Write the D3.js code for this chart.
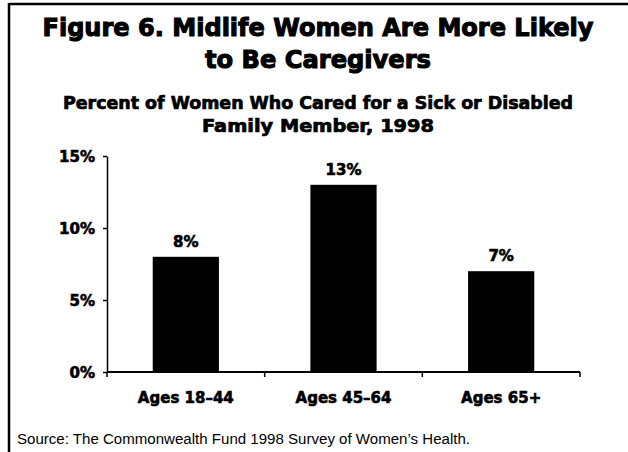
<!DOCTYPE html>
<html>
<head>
<meta charset="utf-8">
<script src="https://cdn.jsdelivr.net/npm/d3@7"></script>
<style>
  html, body { margin: 0; padding: 0; background: #fff; }
  svg { display: block; }
  .bold { font-family: "DejaVu Sans", "Liberation Sans", sans-serif; font-weight: bold; fill: #000; }
</style>
</head>
<body>
<script>
// Chart data
const categories = ["Ages 18\u201344", "Ages 45\u201364", "Ages 65+"];
const values = [8, 13, 7];
const yTicks = [0, 5, 10, 15];

const titleLines = ["Figure 6. Midlife Women Are More Likely", "to Be Caregivers"];
const subtitleLines = ["Percent of Women Who Cared for a Sick or Disabled", "Family Member, 1998"];
const sourceText = "Source: The Commonwealth Fund 1998 Survey of Women\u2019s Health.";

const W = 628, H = 452;
const svg = d3.select("body").append("svg").attr("width", W).attr("height", H);

// Frame: top and left rules
svg.append("line").attr("x1", 9).attr("x2", W).attr("y1", 4).attr("y2", 4)
  .attr("stroke", "#000").attr("stroke-width", 2.5);
svg.append("line").attr("x1", 9).attr("x2", 9).attr("y1", 3).attr("y2", H)
  .attr("stroke", "#000").attr("stroke-width", 2.5);

// Titles
const titleSpec = [
  { text: titleLines[0], y: 36, size: 25, len: 551, sw: 1.1 },
  { text: titleLines[1], y: 68, size: 25, len: 226, sw: 1.1 },
  { text: subtitleLines[0], y: 109, size: 17, len: 510, sw: 0.7 },
  { text: subtitleLines[1], y: 132, size: 17, len: 232, sw: 0.7 }
];
titleSpec.forEach(t => {
  svg.append("text").attr("class", "bold")
    .attr("x", 318).attr("y", t.y).attr("text-anchor", "middle")
    .attr("font-size", t.size)
    .attr("stroke", "#000").attr("stroke-width", t.sw)
    .attr("textLength", t.len).attr("lengthAdjust", "spacingAndGlyphs")
    .text(t.text);
});

// Plot area
const x0 = 107, x1 = 580, yTop = 156, yBot = 372;
const x = d3.scaleBand().domain(categories).range([x0, x1]).paddingInner(0.58).paddingOuter(0.29);
const y = d3.scaleLinear().domain([0, 15]).range([yBot, yTop]);

// Bars
svg.append("g").selectAll("rect").data(values).join("rect")
  .attr("x", (d, i) => x(categories[i]))
  .attr("width", x.bandwidth())
  .attr("y", d => y(d))
  .attr("height", d => y(0) - y(d))
  .attr("fill", "#000");

// Value labels
svg.append("g").selectAll("text").data(values).join("text")
  .attr("class", "bold")
  .attr("x", (d, i) => x(categories[i]) + x.bandwidth() / 2)
  .attr("y", d => y(d) - 10)
  .attr("text-anchor", "middle")
  .attr("font-size", 15)
  .attr("stroke", "#000").attr("stroke-width", 0.6)
  .text(d => d + "%");

// Y axis
const yAxis = svg.append("g").attr("transform", `translate(${x0},0)`)
  .call(d3.axisLeft(y).tickValues(yTicks).tickSize(4).tickSizeOuter(0).tickFormat(d => d + "%"));
yAxis.select(".domain").attr("stroke", "#000").attr("stroke-width", 1.5);
yAxis.selectAll(".tick line").attr("stroke", "#000").attr("stroke-width", 1.5);
yAxis.selectAll(".tick text")
  .attr("class", "bold")
  .attr("x", -12)
  .attr("dy", "0.35em")
  .attr("font-size", 15)
  .attr("stroke", "#000").attr("stroke-width", 0.6)
  .style("font-family", "DejaVu Sans, sans-serif");

// X axis: ticks at band boundaries
const xAxisG = svg.append("g");
xAxisG.append("line").attr("x1", x0).attr("x2", x1).attr("y1", yBot).attr("y2", yBot)
  .attr("stroke", "#000").attr("stroke-width", 2);
const bounds = categories.map((c, i) => x0 + i * (x1 - x0) / categories.length).concat([x1]);
xAxisG.selectAll("line.tk").data(bounds).join("line").attr("class", "tk")
  .attr("x1", d => d).attr("x2", d => d).attr("y1", yBot).attr("y2", yBot + 5)
  .attr("stroke", "#000").attr("stroke-width", 1.5);
xAxisG.selectAll("text").data(categories).join("text")
  .attr("class", "bold")
  .attr("x", d => x(d) + x.bandwidth() / 2)
  .attr("y", 403)
  .attr("text-anchor", "middle")
  .attr("font-size", 15)
  .attr("stroke", "#000").attr("stroke-width", 0.6)
  .text(d => d);

// Source note
svg.append("text")
  .attr("x", 17).attr("y", 444)
  .attr("font-family", "Liberation Sans, Arial, sans-serif")
  .attr("font-size", 14)
  .attr("fill", "#000")
  .attr("textLength", 453).attr("lengthAdjust", "spacingAndGlyphs")
  .text(sourceText);
</script>
</body>
</html>
